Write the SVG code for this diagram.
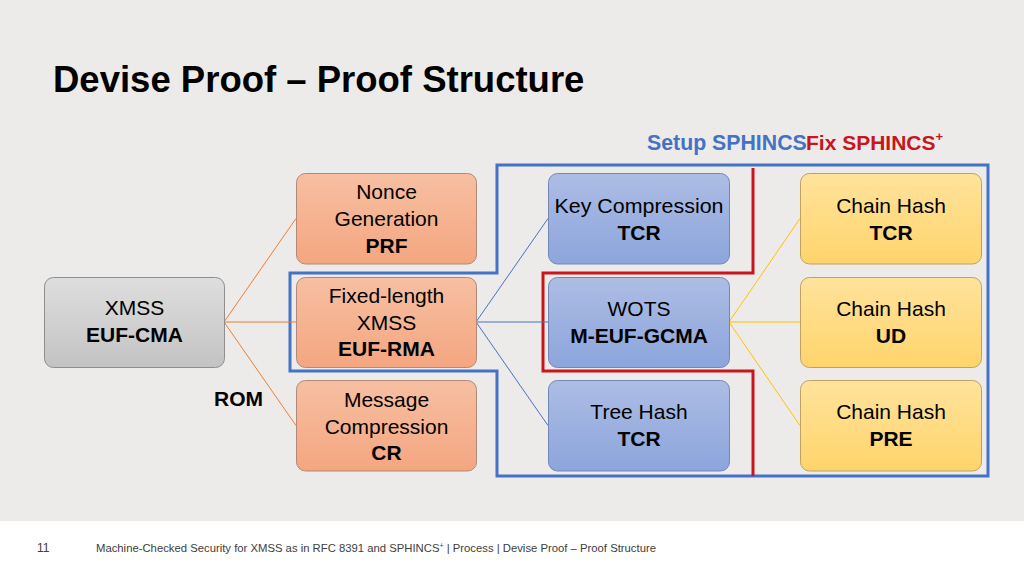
<svg xmlns="http://www.w3.org/2000/svg" width="1024" height="576" viewBox="0 0 1024 576">
<defs>
<linearGradient id="gGray" x1="0" y1="0" x2="0" y2="1"><stop offset="0" stop-color="#DEDEDE"/><stop offset="1" stop-color="#C3C3C3"/></linearGradient>
<linearGradient id="gOrange" x1="0" y1="0" x2="0" y2="1"><stop offset="0" stop-color="#F7BFA2"/><stop offset="1" stop-color="#F4A680"/></linearGradient>
<linearGradient id="gBlue" x1="0" y1="0" x2="0" y2="1"><stop offset="0" stop-color="#ADBDE4"/><stop offset="1" stop-color="#8CA5DC"/></linearGradient>
<linearGradient id="gYellow" x1="0" y1="0" x2="0" y2="1"><stop offset="0" stop-color="#FFE39C"/><stop offset="1" stop-color="#FFD46B"/></linearGradient>
</defs>
<style>
text{font-family:"Liberation Sans",Arial,sans-serif;fill:#000}
.t{font-size:21px;text-anchor:middle}
.b{font-weight:bold}
.box{stroke-width:1}
.gray{fill:url(#gGray);stroke:#8E8E8E}
.orange{fill:url(#gOrange);stroke:#B08A78}
.blue{fill:url(#gBlue);stroke:#7387B5}
.yellow{fill:url(#gYellow);stroke:#BFA260}
.co{stroke:#ED7D31;stroke-width:1;fill:none}
.cb{stroke:#4472C4;stroke-width:1;fill:none}
.cy{stroke:#FFC000;stroke-width:1;fill:none}
.foot{font-size:11.3px;fill:#404040}
</style>
<rect x="0" y="0" width="1024" height="521" fill="#EDEBEA"/>
<rect x="0" y="521" width="1024" height="55" fill="#FFFFFF"/>

<text x="53" y="92" style="font-size:36.5px;font-weight:bold">Devise Proof – Proof Structure</text>

<g id="region-outlines">
<path d="M497,165 H988 V476 H497 V371 H290 V273 H497 Z" fill="none" stroke="#4472C4" stroke-width="3"/>
<path d="M753,168 V273 H543 V371 H753 V476" fill="none" stroke="#C8161D" stroke-width="3"/>
</g>

<g id="region-labels">
<text x="647" y="150" style="font-size:21.3px;font-weight:bold;fill:#4472C4">Setup SPHINCS</text>
<text x="806" y="150" style="font-size:21px;font-weight:bold;fill:#C8161D">Fix SPHINCS<tspan dy="-9" style="font-size:13px">+</tspan></text>
</g>

<g id="connectors">
<path class="co" d="M224,322 L296,218.5 M224,322 L296,322 M224,322 L296,425.5"/>
<path class="cb" d="M476,322 L548,218.5 M476,322 L548,322 M476,322 L548,425.5"/>
<path class="cy" d="M729,322 L800,218.5 M729,322 L800,322 M729,322 L800,425.5"/>
</g>

<g id="xmss">
<rect class="box gray" x="44.5" y="277.5" width="180" height="90" rx="9"/>
<text class="t" x="134.5" y="315">XMSS</text>
<text class="t b" x="134.5" y="342">EUF-CMA</text>
</g>
<text id="rom" x="214" y="406" style="font-size:21px;font-weight:bold">ROM</text>

<g id="nonce">
<rect class="box orange" x="296.5" y="173.5" width="180" height="90.5" rx="9"/>
<text class="t" x="386.5" y="199">Nonce</text>
<text class="t" x="386.5" y="226">Generation</text>
<text class="t b" x="386.5" y="253">PRF</text>
</g>
<g id="fixed-length">
<rect class="box orange" x="296.5" y="277.5" width="180" height="90" rx="9"/>
<text class="t" x="386.5" y="303">Fixed-length</text>
<text class="t" x="386.5" y="329.5">XMSS</text>
<text class="t b" x="386.5" y="356">EUF-RMA</text>
</g>
<g id="message">
<rect class="box orange" x="296.5" y="380.5" width="180" height="90.5" rx="9"/>
<text class="t" x="386.5" y="407">Message</text>
<text class="t" x="386.5" y="433.5">Compression</text>
<text class="t b" x="386.5" y="460">CR</text>
</g>

<g id="key-compression">
<rect class="box blue" x="548.5" y="173.5" width="181" height="90.5" rx="9"/>
<text class="t" x="639" y="213" textLength="169" lengthAdjust="spacingAndGlyphs">Key Compression</text>
<text class="t b" x="639" y="239.5">TCR</text>
</g>
<g id="wots">
<rect class="box blue" x="548.5" y="277.5" width="181" height="90" rx="9"/>
<text class="t" x="639" y="316">WOTS</text>
<text class="t b" x="639" y="342.5">M-EUF-GCMA</text>
</g>
<g id="tree-hash">
<rect class="box blue" x="548.5" y="380.5" width="181" height="90.5" rx="9"/>
<text class="t" x="639" y="419">Tree Hash</text>
<text class="t b" x="639" y="445.5">TCR</text>
</g>

<g id="chain-tcr">
<rect class="box yellow" x="800.5" y="173.5" width="181" height="90.5" rx="9"/>
<text class="t" x="891" y="213">Chain Hash</text>
<text class="t b" x="891" y="239.5">TCR</text>
</g>
<g id="chain-ud">
<rect class="box yellow" x="800.5" y="277.5" width="181" height="90" rx="9"/>
<text class="t" x="891" y="316">Chain Hash</text>
<text class="t b" x="891" y="342.5">UD</text>
</g>
<g id="chain-pre">
<rect class="box yellow" x="800.5" y="380.5" width="181" height="90.5" rx="9"/>
<text class="t" x="891" y="419">Chain Hash</text>
<text class="t b" x="891" y="445.5">PRE</text>
</g>

<text x="37" y="552" style="font-size:12px;fill:#404040">11</text>
<text class="foot" x="96" y="552">Machine-Checked Security for XMSS as in RFC 8391 and SPHINCS<tspan dy="-4" style="font-size:7px">+</tspan><tspan dy="4"> | Process | Devise Proof – Proof Structure</tspan></text>
</svg>
